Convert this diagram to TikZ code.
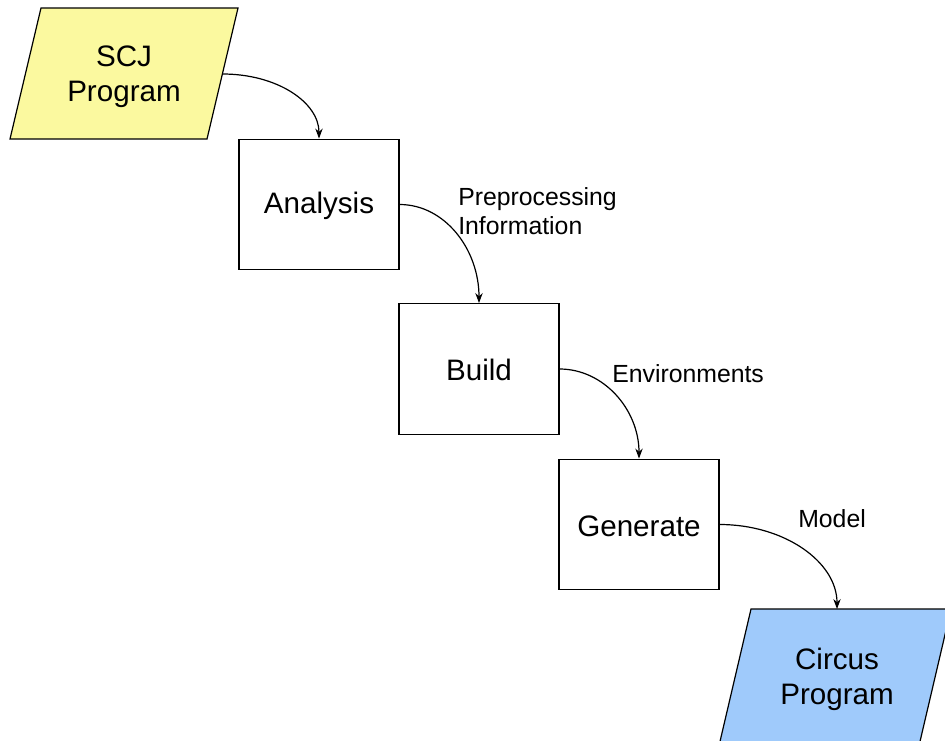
\documentclass[tikz,border=0pt]{standalone}
\usepackage{fontspec}
\setmainfont{Liberation Sans}
\usetikzlibrary{arrows.meta}
\definecolor{inputfill}{HTML}{FBF99F}
\definecolor{outputfill}{HTML}{9FCAFB}
\begin{document}
\begin{tikzpicture}[x=0.75pt,y=-0.75pt,
  stagebox/.style={draw=black,line width=0.9pt,fill=white,minimum width=120pt,
    minimum height=98pt,inner sep=0pt,font=\fontsize{22.2}{26}\selectfont},
  stagetext/.style={inner sep=0pt,font=\fontsize{22.2}{26}\selectfont},
  iotext/.style={align=center,inner sep=0pt,font=\fontsize{22.2}{26}\selectfont},
  flowlabel/.style={inner sep=0pt,align=left,font=\fontsize{18.6}{22}\selectfont},
  flow/.style={line width=0.9pt,-{Stealth[length=7.5pt,width=5.5pt]}},
  shapeline/.style={draw=black,line width=0.9pt}]
\useasboundingbox (0,0) rectangle (945,740);
\clip (0,0) rectangle (945,740);

% input and output parallelograms
\path[shapeline,fill=inputfill] (41,8) -- (238,8) -- (207,139) -- (10,139) -- cycle;
\path[shapeline,fill=outputfill] (751,609) -- (951,609) -- (918,750) -- (718,750) -- cycle;
\node[iotext] (scj) at (124,77) {SCJ\\Program};
\node[iotext] (circus) at (837,679) {Circus\\Program};
\coordinate (scjout) at (222.5,74);
\coordinate (circusin) at (837,609);

% processing stages (boxes, then their captions)
\node[stagebox] (analysis) at (319,204.5) {};
\node[stagebox] (build) at (479,369) {};
\node[stagebox] (generate) at (639,524.5) {};
\node[stagetext] (analysistext) at (319,206) {Analysis};
\node[stagetext] (buildtext) at (479,370) {Build};
\node[stagetext] (generatetext) at (639,526) {Generate};

% connectors
\draw[flow] (scjout) .. controls +(55,0) and +(0,-36) .. (analysis.north);
\draw[flow] (analysis.east) .. controls +(45,0) and +(0,-54) .. (build.north);
\draw[flow] (build.east) .. controls +(44,0) and +(0,-49) .. (generate.north);
\draw[flow] (generate.east) .. controls +(65,0) and +(0,-47) .. (circusin);

% connector labels
\node[flowlabel,anchor=west] (prep) at (458,211) {Preprocessing\\Information};
\node[flowlabel,anchor=base west] (env) at (612,382.5) {Environments};
\node[flowlabel,anchor=base west] (model) at (798,527) {Model};
\end{tikzpicture}
\end{document}
